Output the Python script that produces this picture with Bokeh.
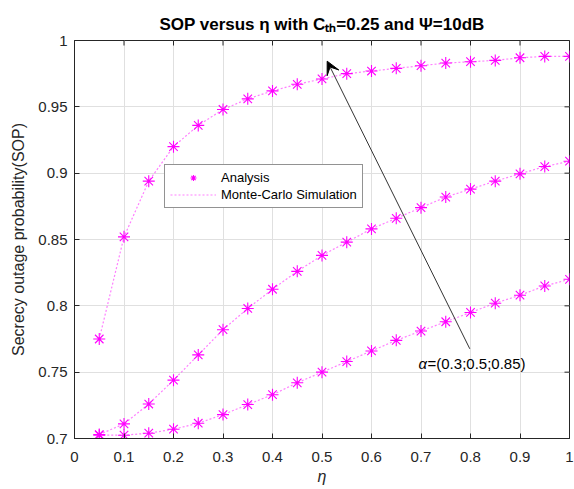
import math
from bokeh.plotting import figure
from bokeh.models import (Range1d, FixedTicker, Legend, LegendItem,
                          Label, Arrow, VeeHead)
from bokeh.embed import file_html
from bokeh.resources import INLINE

# ---------------- data ----------------
eta = [0.05, 0.10, 0.15, 0.20, 0.25, 0.30, 0.35, 0.40, 0.45, 0.50,
       0.55, 0.60, 0.65, 0.70, 0.75, 0.80, 0.85, 0.90, 0.95, 1.00]

# analysis (markers)
sop_alpha_085 = [0.775, 0.852, 0.894, 0.920, 0.936, 0.948, 0.956, 0.962, 0.967, 0.971,
                 0.975, 0.977, 0.979, 0.981, 0.983, 0.984, 0.985, 0.987, 0.988, 0.988]
sop_alpha_05 = [0.703, 0.711, 0.726, 0.744, 0.763, 0.782, 0.798, 0.8125, 0.826, 0.838,
                0.848, 0.858, 0.866, 0.874, 0.882, 0.888, 0.894, 0.8995, 0.905, 0.909]
sop_alpha_03 = [0.7025, 0.7025, 0.704, 0.707, 0.7115, 0.718, 0.7256, 0.733, 0.742, 0.750,
                0.758, 0.766, 0.774, 0.781, 0.788, 0.795, 0.802, 0.808, 0.815, 0.820]

# Monte-Carlo simulation (dotted lines) - coincide with analysis
sim_alpha_085 = list(sop_alpha_085)
sim_alpha_05 = list(sop_alpha_05)
sim_alpha_03 = list(sop_alpha_03)

x_ticks = [0, 0.1, 0.2, 0.3, 0.4, 0.5, 0.6, 0.7, 0.8, 0.9, 1.0]
x_tick_labels = ["0", "0.1", "0.2", "0.3", "0.4", "0.5", "0.6", "0.7", "0.8", "0.9", "1"]
y_ticks = [0.7, 0.75, 0.8, 0.85, 0.9, 0.95, 1.0]
y_tick_labels = ["0.7", "0.75", "0.8", "0.85", "0.9", "0.95", "1"]

series_labels = ["Analysis", "Monte-Carlo Simulation"]
annotation_text = "=(0.3;0.5;0.85)"
title_text = "SOP versus η with Cₜₕ=0.25 and Ψ=10dB"

X_MIN, X_MAX = 0.0, 1.0
Y_MIN, Y_MAX = 0.7, 1.0

# ---------------- styles ----------------
FONT = "Liberation Sans"
AX_COLOR = "#262626"
MAGENTA = "#ff00ff"

p = figure(width=574, height=489,
           x_range=Range1d(X_MIN, X_MAX), y_range=Range1d(Y_MIN, Y_MAX),
           output_backend="svg", toolbar_location=None,
           min_border_left=74, min_border_right=5,
           min_border_top=40, min_border_bottom=51)
p.background_fill_color = "white"
p.border_fill_color = "white"
p.outline_line_color = AX_COLOR
p.outline_line_width = 1

p.title.text = title_text
p.title.text_font = FONT
p.title.text_font_size = "17px"
p.title.text_font_style = "bold"
p.title.text_color = "black"
p.title.align = "center"
p.title.standoff = 13

xt = dict(zip(x_ticks, x_tick_labels))
yt = dict(zip(y_ticks, y_tick_labels))

def style_axis(ax, ticks, overrides):
    ax.ticker = FixedTicker(ticks=ticks)
    ax.major_label_overrides = overrides
    ax.major_tick_in = 5
    ax.major_tick_out = 0
    ax.minor_tick_line_color = None
    ax.axis_line_color = AX_COLOR
    ax.major_tick_line_color = AX_COLOR
    ax.major_label_text_font = FONT
    ax.major_label_text_color = AX_COLOR
    ax.major_label_text_font_size = "15px"

style_axis(p.xaxis[0], x_ticks, xt)
style_axis(p.yaxis[0], y_ticks, yt)
p.xaxis[0].major_label_standoff = 13
p.yaxis[0].major_label_standoff = 7

p.xaxis[0].axis_label = "η"
p.xaxis[0].axis_label_text_font = FONT
p.xaxis[0].axis_label_text_font_size = "16px"
p.xaxis[0].axis_label_text_font_style = "italic"
p.xaxis[0].axis_label_text_color = AX_COLOR
p.xaxis[0].axis_label_standoff = 3

p.yaxis[0].axis_label = "Secrecy outage probability(SOP)"
p.yaxis[0].axis_label_text_font = FONT
p.yaxis[0].axis_label_text_font_size = "16px"
p.yaxis[0].axis_label_text_font_style = "normal"
p.yaxis[0].axis_label_text_color = AX_COLOR
p.yaxis[0].axis_label_standoff = 8

p.xgrid.grid_line_color = "#e0e0e0"
p.ygrid.grid_line_color = "#e0e0e0"

# inward ticks on the top and right box edges (half of each dash is clipped)
p.scatter(x_ticks, [Y_MAX] * len(x_ticks), marker="dash", angle=math.pi / 2,
          size=10, line_color=AX_COLOR, line_width=1)
p.scatter([X_MAX] * len(y_ticks), y_ticks, marker="dash",
          size=10, line_color=AX_COLOR, line_width=1)

# ---------------- series ----------------
line_renderers = []
marker_renderers = []
for sim, ana in [(sim_alpha_085, sop_alpha_085), (sim_alpha_05, sop_alpha_05),
                 (sim_alpha_03, sop_alpha_03)]:
    lr = p.line(eta, sim, line_color=MAGENTA, line_alpha=0.5, line_width=1.2,
                line_dash="2 2")
    mr = p.scatter(eta, ana, marker="asterisk", size=12, line_color=MAGENTA,
                   line_width=1.1)
    line_renderers.append(lr)
    marker_renderers.append(mr)

legend = Legend(items=[LegendItem(label=series_labels[0], renderers=[marker_renderers[0]]),
                       LegendItem(label=series_labels[1], renderers=[line_renderers[0]])],
                location=(90, 230),
                border_line_color=AX_COLOR, border_line_width=1,
                background_fill_color="white", background_fill_alpha=1,
                label_text_font=FONT, label_text_font_size="13px",
                label_text_color="black",
                glyph_width=46, glyph_height=15, label_height=15,
                label_standoff=5, padding=5, spacing=2, margin=0)
p.add_layout(legend)

# ---------------- annotation ----------------
arrow_start = (0.7986, 0.7676)
arrow_end = (0.5105, 0.9844)
p.add_layout(Arrow(x_start=arrow_start[0], y_start=arrow_start[1],
                   x_end=arrow_end[0], y_end=arrow_end[1],
                   line_color="#333333", line_width=1,
                   end=VeeHead(size=13, fill_color="black", line_color="black",
                               line_width=1)))

p.add_layout(Label(x=0.695, y=0.7568, text="α", text_font=FONT,
                   text_font_size="15px", text_font_style="italic",
                   text_baseline="middle", text_align="left", text_color="black"))
p.add_layout(Label(x=0.695, y=0.7568, x_offset=9, text=annotation_text,
                   text_font=FONT, text_font_size="15px",
                   text_baseline="middle", text_align="left", text_color="black"))

open("out.html", "w").write(file_html(p, INLINE))
